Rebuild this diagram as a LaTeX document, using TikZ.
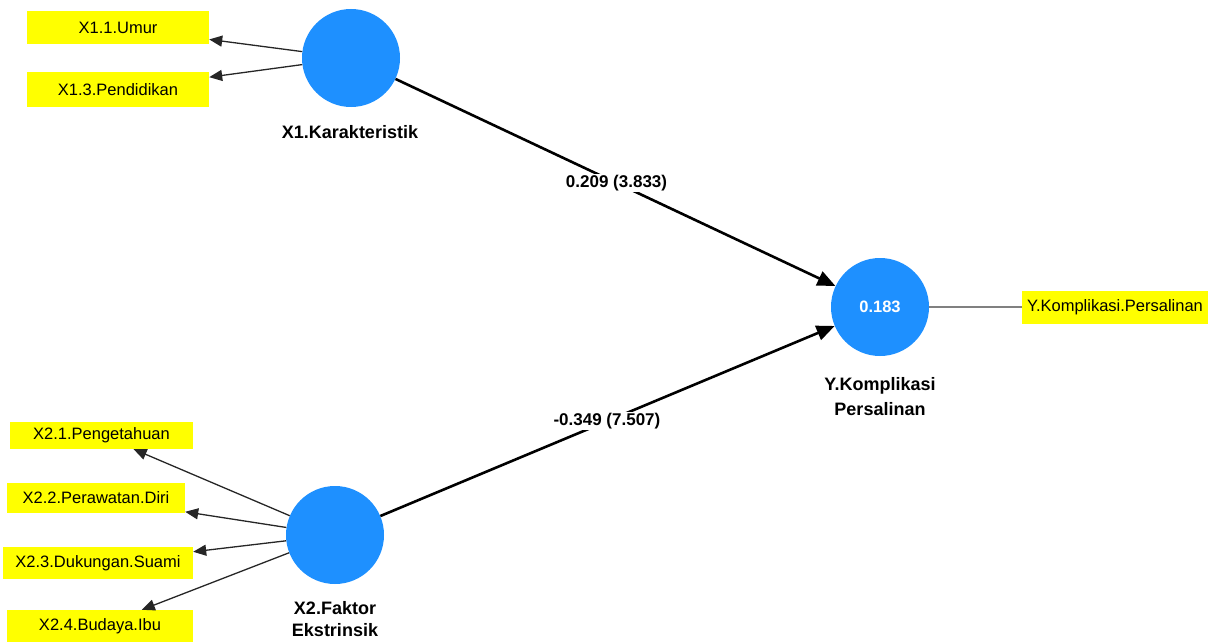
\documentclass[tikz,border=0pt]{standalone}
\usepackage{fontspec}
\setmainfont{Liberation Sans}
\usetikzlibrary{arrows.meta}
\definecolor{lvblue}{RGB}{30,144,255}
\definecolor{indyellow}{RGB}{255,255,0}
\tikzset{
  latent/.style={circle,fill=lvblue,minimum size=98pt,inner sep=0pt,text=white,font=\fontsize{16.5}{19}\selectfont\bfseries},
  ind/.style={fill=indyellow,inner sep=0pt,font=\fontsize{16.5}{19}\selectfont},
  lvlabel/.style={align=center,font=\fontsize{18}{25}\selectfont\bfseries},
  outer/.style={line width=1.3pt,draw=black!85,-{Triangle[length=13pt,width=11pt]}},
  path/.style={line width=2.6pt,-{Triangle[length=18pt,width=15pt]}},
  coef/.style={fill=white,inner sep=1pt,font=\fontsize{17}{19}\selectfont\bfseries},
}
\begin{document}
\begin{tikzpicture}[x=1pt,y=-1pt]
\useasboundingbox (0,0) rectangle (1208,642);
% latent variables
\node[latent] (x1) at (351,58) {};
\node[latent] (x2) at (335,535) {};
\node[latent] (y) at (880,307) {0.183};
% latent labels
\node[lvlabel] (x1l) at (350,132) {X1.Karakteristik};
\node[lvlabel,font=\fontsize{18}{22}\selectfont\bfseries,inner sep=0pt] (x2l) at (335,619) {X2.Faktor\\Ekstrinsik};
\node[lvlabel] (yl) at (880,397) {Y.Komplikasi\\Persalinan};
% indicators
\node[ind,minimum width=182pt,minimum height=33pt] (x11) at (118,27.5) {X1.1.Umur};
\node[ind,minimum width=182pt,minimum height=35pt] (x13) at (118,89.5) {X1.3.Pendidikan};
\node[ind,minimum width=183pt,minimum height=27pt] (x21) at (101.5,435.5) {X2.1.Pengetahuan};
\node[ind,minimum width=178pt,minimum height=30pt] (x22) at (96,498) {X2.2.Perawatan.Diri};
\node[ind,minimum width=190pt,minimum height=32pt] (x23) at (98,563) {X2.3.Dukungan.Suami};
\node[ind,minimum width=186pt,minimum height=32pt] (x24) at (100,626) {X2.4.Budaya.Ibu};
\node[ind,minimum width=186pt,minimum height=33pt] (yk) at (1115,307) {Y.Komplikasi.Persalinan};
% outer model
\draw[outer] (x1) -- (x11);
\draw[outer] (x1) -- (x13);
\draw[outer] (x2) -- (x21);
\draw[outer] (x2) -- (x22);
\draw[outer] (x2) -- (x23);
\draw[outer] (x2) -- (x24);
\draw[line width=2pt,draw=black!50] (y) -- (yk);
% inner model
\draw[path] (x1) -- (y);
\draw[path] (x2) -- (y);
\path (x1.center) -- (y.center) node[coef,pos=0.502] (c1) {0.209 (3.833)};
\path (x2.center) -- (y.center) node[coef,pos=0.499] (c2) {-0.349 (7.507)};
\end{tikzpicture}
\end{document}
